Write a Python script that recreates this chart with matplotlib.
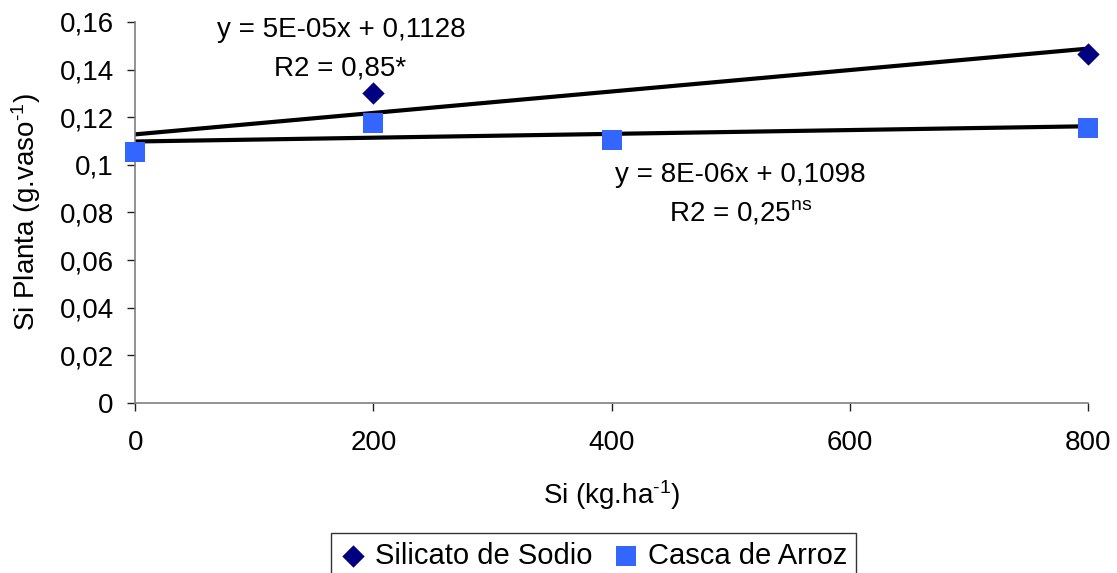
import matplotlib
matplotlib.use("Agg")
import matplotlib.pyplot as plt
from matplotlib.ticker import FuncFormatter, MultipleLocator
import numpy as np

# dose of Si (kg/ha) and Si in plant (g/vaso)
x_sodio = [200, 800]
y_sodio = [0.1302, 0.1466]
x_casca = [0, 200, 400, 800]
y_casca = [0.1054, 0.1176, 0.1104, 0.1155]

# trend lines (slope, intercept)
trend_sodio = (4.5e-05, 0.1128)
trend_casca = (8e-06, 0.1098)

x_ticks = [0, 200, 400, 600, 800]

plt.rcParams['font.family'] = ['Liberation Sans', 'DejaVu Sans']
plt.rcParams['mathtext.fontset'] = 'custom'
plt.rcParams['mathtext.rm'] = 'Liberation Sans'
plt.rcParams['mathtext.it'] = 'Liberation Sans'

fs = 20

fig = plt.figure(figsize=(11.17, 5.73), dpi=100)
ax = fig.add_axes([0.121, 0.2967, 0.853, 0.665])

xx = np.array([0, 800])
ax.plot(xx, trend_sodio[0] * xx + trend_sodio[1], color='black', lw=3, zorder=2)
ax.plot(xx, trend_casca[0] * xx + trend_casca[1], color='black', lw=3, zorder=2)

ax.scatter(x_casca, y_casca, marker='s', s=200, color='#3366FF', zorder=3,
           label='Casca de Arroz', linewidths=0, clip_on=False)
ax.scatter(x_sodio, y_sodio, marker='D', s=130, color='#000080', zorder=3,
           label='Silicato de Sodio', linewidths=0, clip_on=False)

ax.set_xlim(0, 800)
ax.set_ylim(0, 0.16)
ax.set_xticks(x_ticks)
ax.yaxis.set_major_locator(MultipleLocator(0.02))
ax.yaxis.set_major_formatter(FuncFormatter(lambda v, p: ('%g' % round(v, 2)).replace('.', ',')))

for s in ['top', 'right']:
    ax.spines[s].set_visible(False)
for s in ['left', 'bottom']:
    ax.spines[s].set_color('#808080')
    ax.spines[s].set_linewidth(1.2)
ax.tick_params(direction='out', length=5.5, width=1, color='#202020',
               labelsize=fs, pad=10)
ax.tick_params(axis='x', pad=14)

ax.set_xlabel('Si (kg.ha$^{\\text{-1}}$)', fontsize=fs, labelpad=16)
ax.set_ylabel('Si Planta (g.vaso$^{\\text{-1}}$)', fontsize=fs, labelpad=12)

ax.text(173, 0.1566, 'y = 5E-05x + 0,1128', fontsize=fs, ha='center', va='center')
ax.text(172, 0.1405, 'R2 = 0,85*', fontsize=fs, ha='center', va='center')
ax.text(508, 0.0957, 'y = 8E-06x + 0,1098', fontsize=fs, ha='center', va='center')
ax.text(508, 0.0800, 'R2 = 0,25$^{\\text{ns}}$', fontsize=fs, ha='center', va='center')

handles, labels = ax.get_legend_handles_labels()
leg = fig.legend(handles[::-1], labels[::-1], loc='upper left',
                 bbox_to_anchor=(0.2963, 0.0698), ncol=2, fontsize=21,
                 frameon=True, fancybox=False, handletextpad=0.3,
                 columnspacing=0.7, handlelength=0.9, borderaxespad=0,
                 borderpad=0.3)
leg.get_frame().set_edgecolor('black')
leg.get_frame().set_linewidth(1)

fig.savefig('out.png', dpi=100)
